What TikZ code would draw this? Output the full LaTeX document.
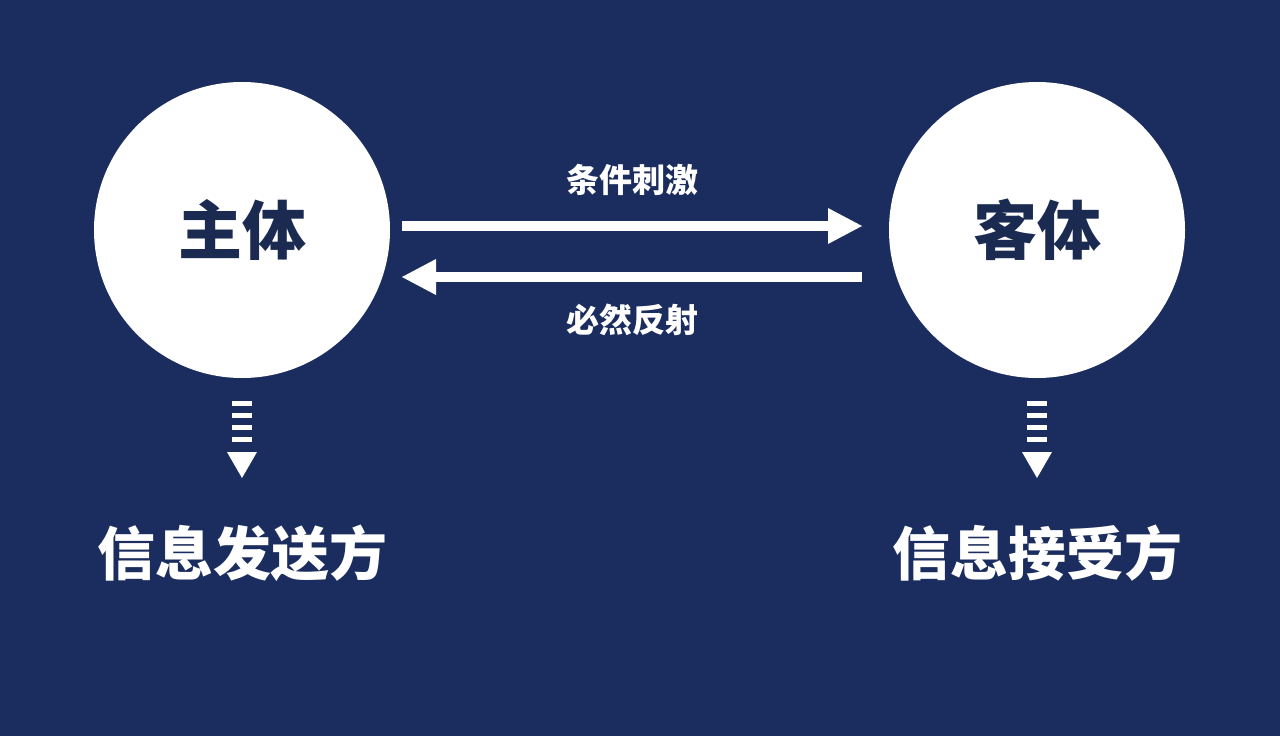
\documentclass[tikz,border=0pt]{standalone}
\usepackage{fontspec}
\newfontfamily\cjk{Noto Sans CJK SC}
\definecolor{bg}{HTML}{1B2D5E}
\definecolor{ink}{HTML}{1A2A50}
\begin{document}
\begin{tikzpicture}[x=1pt,y=-1pt,
  circ/.style={circle,fill=white,minimum size=296pt,inner sep=0pt,font=\cjk\bfseries\fontsize{64}{64}\selectfont,text=ink},
  lbl/.style={font=\cjk\bfseries\fontsize{33}{33}\selectfont,text=white},
  big/.style={font=\cjk\bfseries\fontsize{58}{58}\selectfont,text=white},
  bar/.style={fill=white},
  arr/.style={white,line width=10pt}]
\fill[bg] (0,0) rectangle (1280,736);
\useasboundingbox (0,0) rectangle (1280,736);
\node[circ] (zt) at (242,230) {主体};
\node[circ] (kt) at (1037,230) {客体};
\coordinate (a1s) at (402,226);
\coordinate (a1e) at (830,226);
\draw[arr] (a1s) -- (a1e);
\fill[white] (828,208) -- (862,226) -- (828,244) -- cycle;
\coordinate (a2s) at (862,277);
\coordinate (a2e) at (434,277);
\draw[arr] (a2s) -- (a2e);
\fill[white] (436,259) -- (402,277) -- (436,295) -- cycle;
\node[lbl] (t1) at (632,180) {条件刺激};
\node[lbl] (t2) at (632,320) {必然反射};
\foreach \cx in {242,1037}{
  \foreach \i in {0,1,2,3}{
    \fill[bar] (\cx-10,401+\i*12) rectangle (\cx+10,406+\i*12);
  }
  \fill[white] (\cx-15,452) -- (\cx+15,452) -- (\cx,478) -- cycle;
}
\node[big] (s1) at (242,553) {信息发送方};
\node[big] (s2) at (1037,553) {信息接受方};
\end{tikzpicture}
\end{document}
